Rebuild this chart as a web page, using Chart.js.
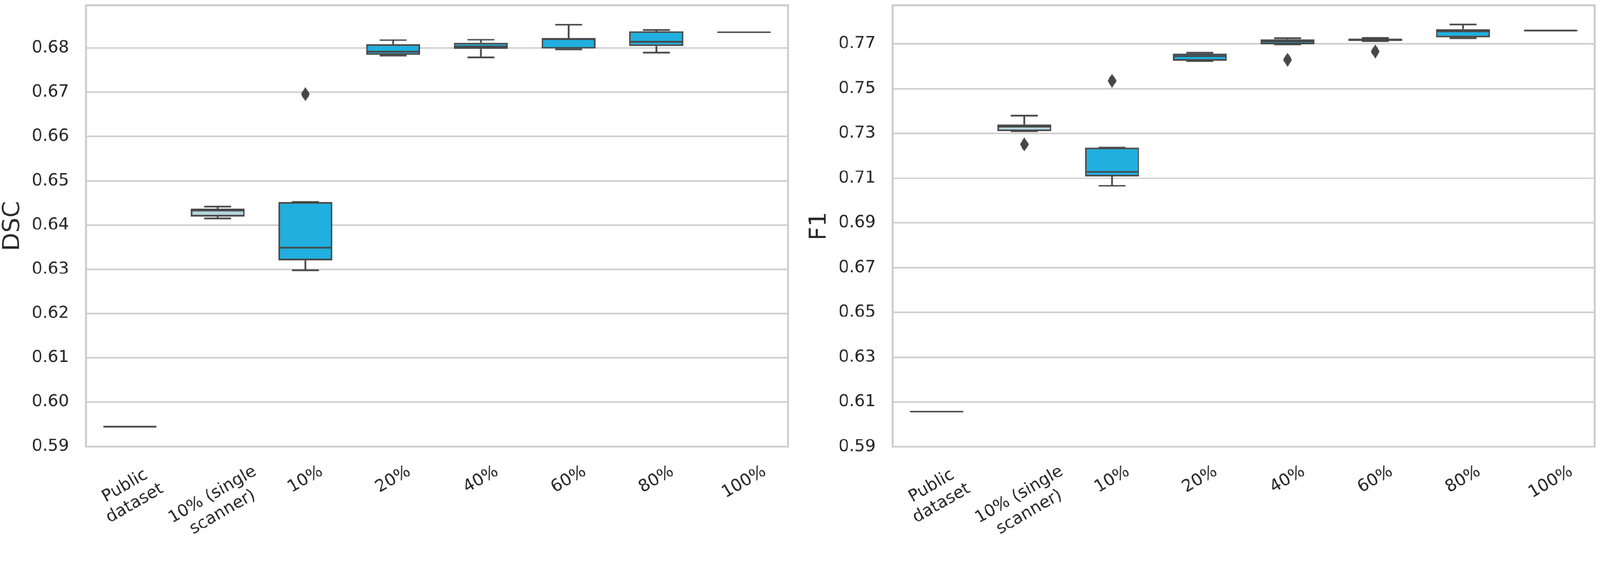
<!DOCTYPE html>
<html><head><meta charset="utf-8">
<script src="https://cdn.jsdelivr.net/npm/chart.js@4.4.1/dist/chart.umd.min.js"></script>
<style>
html,body{margin:0;padding:0;background:#fff;overflow:hidden;}
#wrap{position:absolute;left:0;top:0;width:4316px;height:1461px;overflow:hidden;background:#fff;transform-origin:0 0;}
canvas{position:absolute;top:0;}
</style></head><body>
<div id="wrap">
<canvas id="c1" width="2141" height="1461" style="left:0px"></canvas>
<canvas id="c2" width="2141" height="1461" style="left:2176px"></canvas>
</div>
<script>
// ---------- data ----------
const categories = [['Public', 'dataset'], ['10% (single', 'scanner)'], '10%', '20%', '40%', '60%', '80%', '100%'];

const dscTicks = [0.59, 0.60, 0.61, 0.62, 0.63, 0.64, 0.65, 0.66, 0.67, 0.68];
const dscMin = [0.5944, 0.6415, 0.6298, 0.6783, 0.6779, 0.6797, 0.6790, 0.6836];
const dscQ1  = [0.5944, 0.6419, 0.6320, 0.6785, 0.6798, 0.6799, 0.6805, 0.6836];
const dscMed = [0.5944, 0.6433, 0.6349, 0.6792, 0.6804, 0.6820, 0.6814, 0.6836];
const dscQ3  = [0.5944, 0.6437, 0.6452, 0.6809, 0.6812, 0.6823, 0.6838, 0.6836];
const dscMax = [0.5944, 0.6442, 0.6452, 0.6818, 0.6819, 0.6853, 0.6841, 0.6836];
const dscOutliers = [null, null, 0.6696, null, null, null, null, null];

const f1Ticks = [0.59, 0.61, 0.63, 0.65, 0.67, 0.69, 0.71, 0.73, 0.75, 0.77];
const f1Min = [0.6057, 0.7310, 0.7066, 0.7623, 0.7698, 0.7712, 0.7726, 0.7760];
const f1Q1  = [0.6057, 0.7310, 0.7108, 0.7625, 0.7698, 0.7712, 0.7729, 0.7760];
const f1Med = [0.6057, 0.7330, 0.7128, 0.7645, 0.7711, 0.7720, 0.7757, 0.7760];
const f1Q3  = [0.6057, 0.7340, 0.7237, 0.7657, 0.7721, 0.7724, 0.7766, 0.7760];
const f1Max = [0.6057, 0.7379, 0.7237, 0.7661, 0.7726, 0.7727, 0.7787, 0.7760];
const f1Outliers = [null, 0.7251, 0.7535, null, 0.7629, 0.7666, null, null];

// ---------- page scaling (design is 4316 x 1461) ----------
const DESIGN_W = 4316, DESIGN_H = 1461;
const k = Math.min(window.innerWidth / DESIGN_W, window.innerHeight / DESIGN_H) || 1;
document.getElementById('wrap').style.transform = 'scale(' + k + ')';
const DPR = k * (window.devicePixelRatio || 1);

// ---------- styles ----------
const LINE = '#474747';
const TEXT = '#262626';
const GRID = '#cccccc';
const FILL_MAIN = '#20AFDF';
const FILL_LIGHT = '#B4D4DF';
const fills = categories.map((c, i) => i === 1 ? FILL_LIGHT : FILL_MAIN);
const FONT = 'DejaVu Sans';
const TICK_SIZE = 45;

function makeDiamond(w, h, color) {
  const c = document.createElement('canvas');
  c.width = w; c.height = h;
  const g = c.getContext('2d');
  g.fillStyle = color;
  g.beginPath();
  g.moveTo(w / 2, 0); g.lineTo(w, h / 2); g.lineTo(w / 2, h); g.lineTo(0, h / 2);
  g.closePath(); g.fill();
  return c;
}
const diamond = makeDiamond(24, 38, LINE);

// whiskers, caps and medians, positioned through the chart's own scales
const boxPlugin = {
  id: 'boxWhiskers',
  afterDatasetsDraw(chart) {
    const st = chart.options.plugins.boxWhiskers;
    const meta = chart.getDatasetMeta(1);
    const y = chart.scales.y;
    const ctx = chart.ctx;
    ctx.save();
    ctx.strokeStyle = LINE;
    ctx.lineWidth = 4.5;
    const seg = (x1, y1, x2, y2, cap) => {
      ctx.lineCap = cap || 'butt';
      ctx.beginPath(); ctx.moveTo(x1, y1); ctx.lineTo(x2, y2); ctx.stroke();
    };
    meta.data.forEach((bar, i) => {
      const cx = bar.x, half = bar.width / 2, cap = bar.width / 4;
      const pMin = y.getPixelForValue(st.min[i]);
      const pQ1 = y.getPixelForValue(st.q1[i]);
      const pMed = y.getPixelForValue(st.med[i]);
      const pQ3 = y.getPixelForValue(st.q3[i]);
      const pMax = y.getPixelForValue(st.max[i]);
      if (st.min[i] !== st.max[i]) {
        seg(cx, pQ3, cx, pMax);
        seg(cx - cap, pMax, cx + cap, pMax);
        seg(cx, pQ1, cx, pMin);
        seg(cx - cap, pMin, cx + cap, pMin);
        seg(cx - half + 2, pMed, cx + half - 2, pMed);
      } else {
        seg(cx - half + 3, pMed, cx + half - 3, pMed, 'round');
      }
    });
    ctx.restore();
  }
};

// category labels: rotated 30 degrees, centred on each tick of the x scale
const xLabelPlugin = {
  id: 'xLabels',
  afterDraw(chart) {
    const xs = chart.scales.x;
    const ctx = chart.ctx;
    const rot = Math.PI / 6;
    const ls = TICK_SIZE * 1.2;
    const boxH = TICK_SIZE * 1.164;
    const y0 = chart.chartArea.bottom + 41;
    ctx.save();
    ctx.font = TICK_SIZE + 'px "' + FONT + '"';
    ctx.fillStyle = TEXT;
    ctx.textAlign = 'center';
    ctx.textBaseline = 'middle';
    chart.data.labels.forEach((lab, i) => {
      const lines = Array.isArray(lab) ? lab : [lab];
      const W = Math.max(...lines.map(t => ctx.measureText(t).width));
      const H = (lines.length - 1) * ls + boxH;
      const hr = W * Math.sin(rot) + H * Math.cos(rot);
      const cx = xs.getPixelForTick(i);
      const cy = y0 + hr / 2;
      ctx.save();
      ctx.translate(cx, cy);
      ctx.rotate(-rot);
      lines.forEach((t, j) => {
        ctx.fillText(t, 0, (j - (lines.length - 1) / 2) * ls);
      });
      ctx.restore();
    });
    ctx.restore();
  }
};

const framePlugin = {
  id: 'frame',
  afterDraw(chart) {
    const a = chart.chartArea, ctx = chart.ctx;
    ctx.save();
    ctx.strokeStyle = GRID;
    ctx.lineWidth = 5;
    ctx.strokeRect(a.left, a.top, a.right - a.left, a.bottom - a.top);
    ctx.restore();
  }
};

function makeChart(id, title, ticks, range, mins, q1s, meds, q3s, maxs, outs) {
  return new Chart(document.getElementById(id), {
    type: 'bar',
    data: {
      labels: categories,
      datasets: [
        {
          type: 'line',
          data: outs,
          showLine: false,
          pointStyle: diamond,
          pointRadius: 10,
          pointHoverRadius: 10,
          order: 0
        },
        {
          type: 'bar',
          data: q1s.map((q, i) => [q, q3s[i]]),
          backgroundColor: fills,
          borderColor: LINE,
          borderWidth: 4.5,
          borderSkipped: false,
          barPercentage: 0.617,
          categoryPercentage: 1.0,
          order: 1
        }
      ]
    },
    options: {
      responsive: false,
      devicePixelRatio: DPR,
      animation: false,
      events: [],
      layout: { autoPadding: false, padding: { top: 14.5, right: 16.5, bottom: 0, left: 0 } },
      plugins: {
        legend: { display: false },
        tooltip: { enabled: false },
        boxWhiskers: { min: mins, q1: q1s, med: meds, q3: q3s, max: maxs }
      },
      scales: {
        x: {
          offset: true,
          grid: { display: false, drawTicks: false },
          border: { display: false },
          afterFit: s => { s.height = 257; s.paddingLeft = 0; s.paddingRight = 0; },
          ticks: { display: false, autoSkip: false }
        },
        y: {
          min: range[0], max: range[1],
          bounds: 'data',
          afterBuildTicks: s => { s.ticks = ticks.map(v => ({ value: v })); },
          afterFit: s => { s.width = 232; s.paddingTop = 0; s.paddingBottom = 0; },
          grid: { color: GRID, lineWidth: 4, drawTicks: false },
          border: { display: false },
          ticks: {
            padding: 46, color: TEXT,
            font: { family: FONT, size: TICK_SIZE },
            callback: v => Number(v).toFixed(2)
          },
          title: {
            display: true, text: title, color: TEXT, padding: 0,
            font: { family: FONT, size: 64, lineHeight: 1.1 }
          }
        }
      }
    },
    plugins: [boxPlugin, framePlugin, xLabelPlugin]
  });
}

makeChart('c1', 'DSC', dscTicks, [0.5899, 0.68966], dscMin, dscQ1, dscMed, dscQ3, dscMax, dscOutliers);
makeChart('c2', 'F1', f1Ticks, [0.59, 0.7872], f1Min, f1Q1, f1Med, f1Q3, f1Max, f1Outliers);
</script>
</body></html>
